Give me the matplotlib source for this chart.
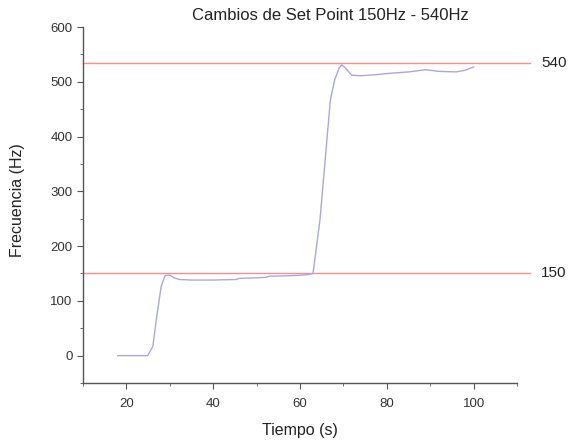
import matplotlib
matplotlib.use("Agg")
import matplotlib.pyplot as plt
from matplotlib.ticker import MultipleLocator

plt.rcParams['font.family'] = ['Liberation Sans', 'DejaVu Sans']

tiempo = [18, 20, 22, 24, 24.9, 26.1, 26.9, 28, 28.9, 30, 31, 32.2, 35, 40, 45.3, 46,
          50, 52.2, 53, 58, 60.5, 62, 63, 64.6, 67, 68, 69, 69.6, 70.5, 71.9, 74,
          77.6, 80, 85, 89, 92, 96, 98, 100]
frecuencia = [0, 0, 0, 0, 0, 17, 66, 126, 146, 147, 142, 139, 138, 138, 139, 141,
              142, 143, 145, 146, 147, 148, 150, 248, 467, 504, 525, 531, 525, 512, 511,
              513, 515, 518, 522, 519, 518, 521, 527]

set_points = [150, 535]
set_point_labels = ['150', '540']

fig = plt.figure(figsize=(5.8, 4.41), dpi=100)
ax = fig.add_axes([83 / 580, 1 - 383 / 441, (517 - 83) / 580, (383 - 27) / 441])

for sp in set_points:
    ax.plot([10, 113], [sp, sp], color='#ff8c8c', lw=1.0, clip_on=False)
ax.plot(tiempo, frecuencia, color='#a8a8e0', lw=1.0)

for sp, lab in zip(set_points, set_point_labels):
    ax.text(115.5, sp, lab, va='center', ha='left', fontsize=11, color='#222222')

ax.set_xlim(10, 110)
ax.set_ylim(-50, 600)
ax.xaxis.set_major_locator(MultipleLocator(20))
ax.xaxis.set_minor_locator(MultipleLocator(10))
ax.yaxis.set_major_locator(MultipleLocator(100))
ax.yaxis.set_minor_locator(MultipleLocator(50))
ax.spines['top'].set_visible(False)
ax.spines['right'].set_visible(False)
for s in ['left', 'bottom']:
    ax.spines[s].set_color('#555555')
    ax.spines[s].set_linewidth(1.0)
ax.tick_params(which='major', length=4, color='#555555', labelsize=9.5, labelcolor='#333333')
ax.tick_params(which='minor', length=2, color='#555555')
ax.tick_params(axis='x', which='major', pad=7)

fig.text(300 / 580, 1 - 430 / 441, 'Tiempo (s)', ha='center', va='center', fontsize=11.5, color='#222222')
fig.text(18 / 580, 1 - 200 / 441, 'Frecuencia (Hz)', ha='center', va='center', rotation=90,
         fontsize=11.5, color='#222222')
fig.text(330 / 580, 1 - 16 / 441, 'Cambios de Set Point 150Hz - 540Hz', ha='center', va='center',
         fontsize=12, color='#222222')

fig.savefig('out.png', dpi=100)
